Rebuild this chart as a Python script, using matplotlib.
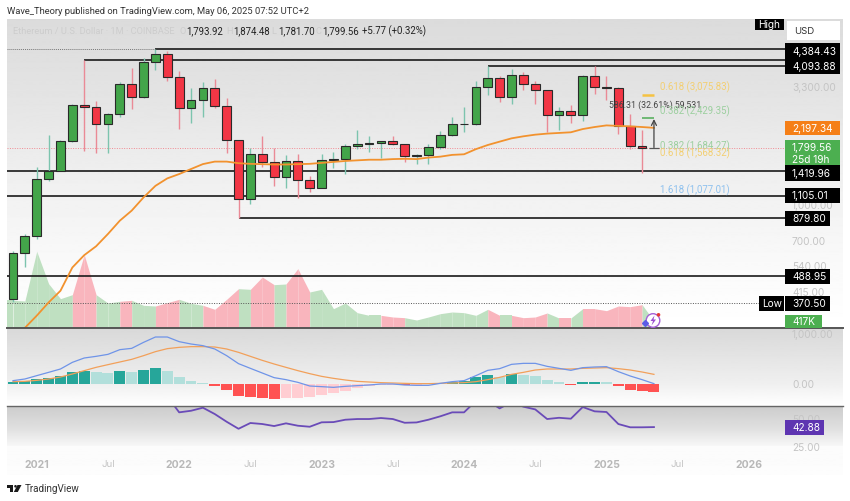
import numpy as np
import matplotlib
matplotlib.use('Agg')
import matplotlib.pyplot as plt
from matplotlib.patches import Rectangle, Circle, Polygon

plt.rcParams['font.family'] = ['Roboto', 'DejaVu Sans']

W, H = 850, 502

# monthly candles, Nov 2020 .. Apr 2025
opens = [386, 616, 737, 1312, 1418, 1918, 2773, 2710, 2274, 2530, 3430, 3000, 4290, 4630, 3680, 2690, 2920, 3280,
         2730, 1940, 1067, 1680, 1553, 1330, 1572, 1295, 1197, 1585, 1605, 1820, 1870, 1875, 1930, 1856, 1645, 1670,
         1815, 2050, 2283, 2283, 3340, 3650, 3010, 3760, 3430, 3230, 2510, 2600, 2515, 3700, 3330, 3300, 2237, 1822]
highs = [630, 751, 1477, 2040, 1947, 2800, 4384, 2875, 2550, 3490, 4030, 4460, 4868, 4780, 3900, 3285, 3480, 3590,
         2975, 1950, 1790, 2030, 1790, 1665, 1680, 1350, 1680, 1725, 1860, 2140, 2030, 1930, 2030, 1870, 1680, 1865,
         2130, 2450, 2715, 3520, 4093, 3730, 3975, 3880, 3530, 3240, 2720, 2760, 3740, 4105, 3730, 3320, 2525, 2140]
lows = [374, 535, 715, 1284, 1437, 1900, 1730, 1695, 1710, 2450, 2650, 2970, 3930, 3520, 2165, 2300, 2450, 2700,
        1700, 880, 1010, 1474, 1220, 1195, 1075, 1150, 1190, 1460, 1380, 1770, 1720, 1610, 1845, 1550, 1530, 1520,
        1780, 2030, 2100, 2250, 3060, 2850, 2800, 3220, 2810, 2110, 2150, 2310, 2360, 3100, 2920, 2070, 1770, 1385]
closes = [616, 737, 1312, 1418, 1918, 2773, 2710, 2274, 2530, 3430, 3000, 4290, 4630, 3680, 2690, 2920, 3280, 2730,
          1940, 1067, 1680, 1553, 1330, 1572, 1295, 1197, 1585, 1605, 1820, 1870, 1875, 1930, 1856, 1645, 1670, 1815,
          2050, 2283, 2283, 3340, 3650, 3010, 3760, 3430, 3230, 2510, 2600, 2515, 3700, 3330, 3300, 2237, 1822, 1794]

# moving average, starts at Dec 2020 and runs to May 2025
ma = [289, 327, 374, 421, 533, 604, 661, 749, 857, 949, 1085, 1220, 1316, 1375, 1447, 1521, 1560, 1560, 1535,
      1525, 1520, 1515, 1515, 1520, 1525, 1540, 1555, 1570, 1580, 1590, 1590, 1600, 1605, 1600, 1625, 1640, 1670,
      1680, 1770, 1846, 1910, 1975, 2016, 2050, 2072, 2086, 2100, 2170, 2215, 2252, 2240, 2230, 2215, 2197]

# volume in K, Nov 2020 .. May 2025
volume = [1660, 1620, 4600, 2660, 1760, 2000, 4400, 2000, 1500, 1600, 1660, 1360, 1320, 1520, 1720, 1480, 1360, 1120,
          1720, 2360, 2320, 3060, 2600, 2640, 3560, 2160, 2320, 1160, 1500, 920, 760, 760, 660, 620, 480, 660,
          860, 960, 920, 760, 1120, 760, 760, 620, 660, 900, 600, 600, 1160, 1160, 1040, 1320, 1280, 1400, 417]

macd = [67, 100, 167, 233, 300, 433, 520, 553, 593, 687, 713, 833, 940, 940, 847, 800, 767, 700, 567, 407, 313, 220,
        127, 87, 33, -40, -53, -67, -47, -33, -20, 0, 0, -20, -27, -27, 13, 47, 67, 167, 273, 307, 393, 413, 413, 353,
        313, 273, 327, 340, 347, 247, 160, 87, 7]
signal = [47, 53, 73, 100, 140, 200, 267, 333, 387, 440, 493, 567, 647, 707, 733, 747, 747, 740, 700, 633, 553, 473,
          400, 333, 267, 207, 153, 113, 80, 53, 40, 27, 20, 13, 7, 7, 13, 20, 27, 47, 87, 133, 193, 233, 280, 300,
          300, 300, 313, 320, 327, 307, 280, 240, 193]
hist = [47, 60, 100, 127, 167, 233, 267, 247, 220, 253, 233, 287, 313, 260, 140, 67, 20, -47, -127, -240, -267, -280,
        -293, -280, -273, -260, -220, -173, -133, -87, -47, -27, -13, -20, -13, -7, 7, 33, 53, 133, 187, 133, 200, 187,
        160, 80, 40, -20, 40, 47, 45, -47, -113, -147, -167]

# rsi from Dec 2021 on, the earlier part is above the pane
rsi = [70, 55.9, 57.3, 60, 54.4, 47.6, 41.4, 46.5, 45.6, 43.8, 46.2, 44.1, 43.2, 47.1, 47.3, 49.4, 50, 50, 50.9, 50,
       46.7, 47, 49.4, 52.4, 55.9, 55.9, 66, 66, 59.4, 65, 60.9, 58.5, 50, 51.1, 50.3, 60.6, 56.8, 56.2, 45.6, 42.7,
       42.7, 42.88]
rsi_start = 13

# level, first month of the line
levels = [4868, 4384.43, 4093.88, 1419.96, 1105.01, 879.80, 488.95]
level_from = [12, 6, 40, -1, -1, 19, -1]
last_price = 1799.56
all_time_low = 370.50
fib_gold = 3075.83
fib_green = 2429.35
arrow_top = 2402

tick_pos = [2, 8, 14, 20, 26, 32, 38, 44, 50, 56, 62]
tick_txt = ['2021', 'Jul', '2022', 'Jul', '2023', 'Jul', '2024', 'Jul', '2025', 'Jul', '2026']

X0, X1 = -0.505, 65.04
SCALE_FONT = ['Inter', 'DejaVu Sans']


def panel(top, bottom, ylim, z=2):
    a = fig.add_axes([7 / W, 1 - bottom / H, 778 / W, (bottom - top) / H], zorder=z)
    a.patch.set_alpha(0)
    a.set_xlim(X0, X1)
    a.set_ylim(*ylim)
    a.axis('off')
    return a


fig = plt.figure(figsize=(W / 100, H / 100), dpi=100, facecolor='white')

# background gradients of the panes
bg = fig.add_axes([0, 0, 1, 1], zorder=0)
bg.set_xlim(0, W)
bg.set_ylim(H, 0)
bg.axis('off')
for top, bottom, ys, vals in [(20, 329, [20, 100, 170, 270, 329], [0.86, 0.895, 0.935, 0.98, 1.0]),
                              (330, 406, [330, 385, 406], [0.85, 0.94, 1.0]),
                              (407, 447, [407, 430, 447], [0.8, 0.88, 0.97]),
                              (447, 476, [447, 476], [0.985, 0.99])]:
    yy = np.arange(top, bottom + 1)
    g = np.interp(yy, ys, vals)[:, None]
    bg.imshow(g, cmap='gray', vmin=0, vmax=1, extent=[7, 843, bottom, top], aspect='auto')
bg.set_xlim(0, W)
bg.set_ylim(H, 0)

# price pane
ax = panel(20, 329, (288.6, 6624), z=3)
ax.set_yscale('log')
ax.set_ylim(288.6, 6624)

vol = panel(20, 329, (0, 309 * 60), z=2)
vol_green, vol_red = '#bfe0c1', '#f9b5bd'
for i in range(1, len(volume)):
    up = i >= len(closes) or closes[i] >= opens[i]
    vol.fill_between([i - 1, i], [volume[i - 1], volume[i]], 0, color=vol_green if up else vol_red, lw=0)
vol.fill_between([X0, 0], [volume[0], volume[0]], 0, color=vol_green, lw=0)

for lv, start in zip(levels, level_from):
    ax.hlines(lv, start if start >= 0 else X0, X1, color='#1a1a1a', lw=1.2, zorder=3)
ax.hlines(levels[0], X0, level_from[0], color='#777777', lw=0.7, ls=(0, (1, 1)), zorder=2)
ax.hlines(last_price, X0, X1, color='#f08a92', lw=0.7, ls=(0, (1, 1.5)), zorder=2)
ax.hlines(all_time_low, X0, X1, color='#555555', lw=0.7, ls=(0, (1, 1.5)), zorder=2)

for i in range(len(closes)):
    up = closes[i] >= opens[i]
    ax.vlines(i, lows[i], highs[i], color='#7cc4ae' if up else '#ea8a96', lw=1.0, zorder=4)
    b0, b1 = min(opens[i], closes[i]), max(opens[i], closes[i])
    ax.bar(i, b1 - b0, bottom=b0, width=0.74, color='#43a54a' if up else '#f23645', edgecolor='#2a2a2a', lw=0.8,
           zorder=5)

ax.plot(np.arange(1, len(ma) + 1), ma, color='#f2922e', lw=1.3, zorder=6, clip_on=True)

ax.hlines(fib_gold, 53, 54, color='#f5c242', lw=1.8, zorder=6)
ax.hlines(fib_green, 53, 54, color='#66b56c', lw=1.3, zorder=6)
ax.hlines(last_price, 53.6, 54.4, color='#555555', lw=0.9, zorder=6)
ax.annotate('', xy=(54, arrow_top), xytext=(54, last_price), zorder=6,
            arrowprops=dict(arrowstyle='->', color='#444444', lw=0.9, shrinkA=0, shrinkB=0, mutation_scale=9))

# macd pane
mp = panel(330, 406, (-420, 1100), z=3)
mx = np.arange(len(hist))
for i, h in enumerate(hist):
    rising = i == 0 or h >= hist[i - 1]
    if h >= 0:
        c = '#26a69a' if rising else '#b2dfdb'
    else:
        c = '#ffcdd2' if rising else '#ff5252'
    mp.bar(i, h, width=0.92, color=c, lw=0, zorder=2)
mp.plot(mx, signal, color='#f2a05a', lw=0.9, zorder=3)
mp.plot(mx, macd, color='#6f94e8', lw=0.9, zorder=4)

# rsi pane, clipped at the top like the reference
rp = panel(407, 447, (26.2, 61.5), z=3)
rp.plot(np.arange(rsi_start, rsi_start + len(rsi)), rsi, color='#6a4bb8', lw=1.3, solid_joinstyle='round')

# pixel overlay for scale labels and texts
ov = fig.add_axes([0, 0, 1, 1], zorder=10)
ov.patch.set_alpha(0)
ov.set_xlim(0, W)
ov.set_ylim(H, 0)
ov.axis('off')

ov.plot([7, 843], [329, 329], color='#555555', lw=1.4)
ov.plot([7, 843], [406.5, 406.5], color='#666666', lw=1.0)

ov.text(7, 11.5, 'Wave_Theory published on TradingView.com, May 06, 2025 07:52 UTC+2', fontsize=6.75, color='#333333',
        va='center')
ov.text(13, 31, 'Ethereum / U.S. Dollar \u00b7 1M \u00b7 COINBASE', fontsize=6.7, color='#cdcdcd', va='center')
for x, lab, val in [(180, 'O', '1,793.92'), (226.5, 'H', '1,874.48'), (271.5, 'L', '1,781.70'),
                    (315.5, 'C', '1,799.56')]:
    ov.text(x, 31, lab, fontsize=6.7, color='#cdcdcd', va='center', ha='left')
    ov.text(x + 6.5, 31, val, fontsize=6.9, color='#222222', va='center')
ov.text(362, 31, '+5.77 (+0.32%)', fontsize=6.9, color='#222222', va='center')

# grey scale labels first, boxes go over them
for y, s in [(88, '3,300.00'), (206, '1,000.00'), (242, '700.00'), (267, '540.00'), (293, '415.00'), (335, '1,000.00'),
             (385, '0.00'), (420, '50.00'), (448.5, '25.00')]:
    ov.text(792, y, s, fontsize=7.3, color='#c4c4c4', va='center', family=SCALE_FONT)

ov.add_patch(Rectangle((787, 22), 53, 19, fc='white', ec='none', zorder=3))
ov.text(794, 32, 'USD', fontsize=6.9, color='#333333', va='center', zorder=4, family=SCALE_FONT)
ov.add_patch(Rectangle((755, 20), 29, 11, fc='black', ec='none', zorder=3))
ov.text(769.5, 24.5, 'High', fontsize=7.3, color='white', va='center', ha='center', zorder=4, family=SCALE_FONT)


def box(x0, x1, y0, y1, color, txt, tx=792):
    ov.add_patch(Rectangle((x0, y0), x1 - x0, y1 - y0, fc=color, ec='none', zorder=3))
    ov.text(tx, (y0 + y1) / 2, txt, fontsize=7.3, color='white', va='center', zorder=4, family=SCALE_FONT)


box(785, 840, 44, 60, 'black', '4,384.43')
box(785, 840, 60, 75, 'black', '4,093.88')
box(785, 840, 122, 136, '#f57f17', '2,197.34')
ov.add_patch(Rectangle((785, 141), 55, 26, fc='#4caf50', ec='none', zorder=3))
ov.text(792, 148, '1,799.56', fontsize=7.3, color='white', va='center', zorder=4, family=SCALE_FONT)
ov.text(792, 160, '25d 19h', fontsize=7.3, color='white', va='center', zorder=4, family=SCALE_FONT)
box(785, 840, 166, 182, 'black', '1,419.96')
box(785, 840, 189, 204, 'black', '1,105.01')
box(785, 830, 212, 227, 'black', '879.80')
box(785, 830, 270, 285, 'black', '488.95')
box(759, 784, 297, 312, 'black', 'Low', tx=762)
box(785, 830, 297, 312, 'black', '370.50')
box(785, 822, 316, 329, '#4caf50', '417K')
box(785, 824, 421, 436, '#5e35b1', '42.88')

# fib labels
ov.text(660, 87, '0.618 (3,075.83)', fontsize=6.9, color='#f3cf72', va='center')
ov.text(660, 111, '0.382 (2,429.35)', fontsize=6.9, color='#9ccf9f', va='center')
ov.text(660, 146, '0.382 (1,684.27)', fontsize=6.9, color='#9ccf9f', va='center')
ov.text(660, 153.5, '0.618 (1,568.32)', fontsize=6.9, color='#f3cf72', va='center')
ov.text(660, 190.5, '1.618 (1,077.01)', fontsize=6.9, color='#8fc1ee', va='center')
ov.text(609, 105, '586.31 (32.61%) 59,531', fontsize=6.3, color='#444444', va='center', zorder=1)

# time axis
for p, s in zip(tick_pos, tick_txt):
    px = 13 + 11.87 * p
    if s == 'Jul':
        ov.text(px, 465, s, fontsize=6.9, color='#c4c4c4', ha='center', va='center', family=SCALE_FONT)
    else:
        ov.text(px, 465, s, fontsize=7.5, color='#b8b8b8', ha='center', va='center', fontweight='bold',
                family=SCALE_FONT)

# alert badge
ov.add_patch(Circle((653, 321.5), 6.8, fc='white', ec='#a45fd6', lw=1.0, zorder=5))
ov.add_patch(Polygon([(654.5, 316.5), (650.5, 322), (653, 322), (651.5, 326.5), (656, 320.5), (653.5, 320.5)],
                     fc='#9a4fd0', ec='none', zorder=6))
ov.add_patch(Circle((658.5, 315.8), 1.8, fc='#e53935', ec='none', zorder=6))
ov.plot([645.5], [323.5], marker='D', ms=3, color='#5b5be6', zorder=6)

# logo
ov.add_patch(Rectangle((7, 486), 6.5, 2.5, fc='#1a1a1a', ec='none'))
ov.add_patch(Rectangle((10.5, 486), 3, 7, fc='#1a1a1a', ec='none'))
ov.add_patch(Circle((15.5, 487.3), 1.3, fc='#1a1a1a', ec='none'))
ov.add_patch(Polygon([(17.5, 486), (21.5, 486), (17.8, 493), (13.8, 493)], fc='#1a1a1a', ec='none'))
ov.text(24.5, 489.5, 'TradingView', fontsize=7.1, color='#333333', va='center')

fig.savefig('out.png', dpi=100)
